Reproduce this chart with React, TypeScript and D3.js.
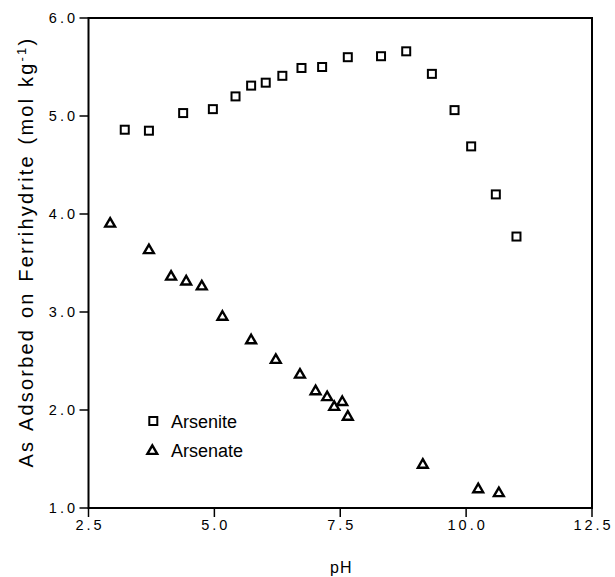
import React from "react";
import * as d3 from "d3";

const arseniteX = [3.22, 3.70, 4.38, 4.97, 5.42, 5.73, 6.02, 6.35, 6.73, 7.14, 7.65, 8.31, 8.81, 9.32, 9.77, 10.10, 10.59, 11.00];
const arseniteY = [4.86, 4.85, 5.03, 5.07, 5.20, 5.31, 5.34, 5.41, 5.49, 5.50, 5.60, 5.61, 5.66, 5.43, 5.06, 4.69, 4.20, 3.77];
const arsenateX = [2.93, 3.70, 4.14, 4.44, 4.75, 5.16, 5.73, 6.22, 6.70, 7.01, 7.24, 7.38, 7.54, 7.65, 9.14, 10.24, 10.65];
const arsenateY = [3.91, 3.64, 3.37, 3.32, 3.27, 2.96, 2.72, 2.52, 2.37, 2.20, 2.14, 2.04, 2.09, 1.94, 1.45, 1.20, 1.16];
const xTicks = [2.5, 5.0, 7.5, 10.0, 12.5];
const yTicks = [1.0, 2.0, 3.0, 4.0, 5.0, 6.0];
const seriesNames = ["Arsenite", "Arsenate"];

const W = 615, H = 577;
const L = 88.5, R = 592, T = 18, B = 508;
const font = "'Liberation Sans', Arial, Helvetica, sans-serif";
const LS = 3;

export default function App() {
  const x = d3.scaleLinear().domain([2.5, 12.5]).range([L, R]);
  const y = d3.scaleLinear().domain([1, 6]).range([B, T]);
  const triPath = d3.symbol().type(d3.symbolTriangle).size(42)() as string;
  const sq = 8;

  return (
    <svg width={W} height={H} style={{ position: "absolute", left: 0, top: 0, background: "#fff" }}>
      <rect x={L} y={T} width={R - L} height={B - T} fill="none" stroke="#000" strokeWidth={2} />
      {yTicks.map((t) => (
        <g key={"y" + t}>
          <line x1={L - 9} x2={L} y1={y(t)} y2={y(t)} stroke="#000" strokeWidth={1.5} />
          <text x={75 + LS} y={y(t)} dy="0.36em" textAnchor="end" fontFamily={font} fontSize={14.5} letterSpacing={LS} fill="#000">
            {t.toFixed(1)}
          </text>
        </g>
      ))}
      {xTicks.map((t) => (
        <g key={"x" + t}>
          <line x1={x(t)} x2={x(t)} y1={B} y2={B + 9} stroke="#000" strokeWidth={1.5} />
          <text x={x(t) + LS / 2} y={B + 22} textAnchor="middle" fontFamily={font} fontSize={14.5} letterSpacing={LS} fill="#000">
            {t.toFixed(1)}
          </text>
        </g>
      ))}
      <text x={x(7.5) + 1} y={573} textAnchor="middle" fontFamily={font} fontSize={16} letterSpacing={1} fill="#000">pH</text>
      <text transform={`translate(32.5, 252) rotate(-90)`} textAnchor="middle" fontFamily={font} fontSize={20} letterSpacing={2.2} wordSpacing={2} fill="#000">
        As Adsorbed on Ferrihydrite (mol kg
        <tspan dy={-7} fontSize={13}>-1</tspan>
        <tspan dy={7}>)</tspan>
      </text>
      {arseniteX.map((v, i) => (
        <rect key={"s" + i} x={x(v) - sq / 2} y={y(arseniteY[i]) - sq / 2} width={sq} height={sq} fill="#fff" stroke="#000" strokeWidth={2} />
      ))}
      {arsenateX.map((v, i) => (
        <path key={"t" + i} d={triPath} transform={`translate(${x(v)},${y(arsenateY[i]) + 1})`} fill="#fff" stroke="#000" strokeWidth={2.4} />
      ))}
      <rect x={153.3 - sq / 2} y={421 - sq / 2} width={sq} height={sq} fill="#fff" stroke="#000" strokeWidth={2} />
      <text x={171} y={421.5} dy="0.36em" fontFamily={font} fontSize={18} fill="#000">{seriesNames[0]}</text>
      <path d={triPath} transform={`translate(152.3,451)`} fill="#fff" stroke="#000" strokeWidth={2.4} />
      <text x={171} y={450.5} dy="0.36em" fontFamily={font} fontSize={18} fill="#000">{seriesNames[1]}</text>
    </svg>
  );
}
